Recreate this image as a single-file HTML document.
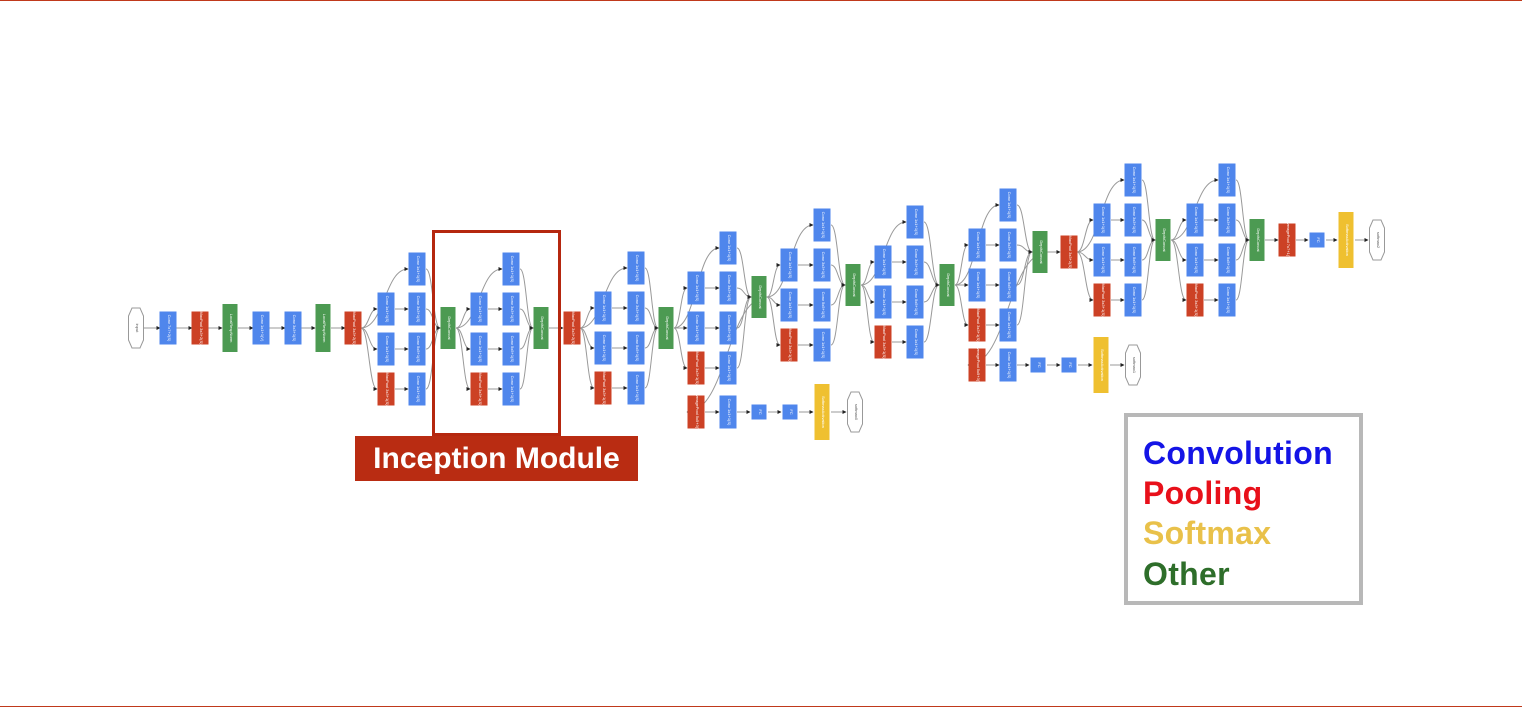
<!DOCTYPE html>
<html><head><meta charset="utf-8"><style>
html,body{margin:0;padding:0;background:#fff;}
#wrap{position:relative;width:1522px;height:707px;overflow:hidden;font-family:"Liberation Sans",Arial,sans-serif;}
.rule{position:absolute;left:0;width:1522px;height:1px;background:#c0391b;}
#label{position:absolute;left:355px;top:436px;width:283px;height:45px;background:#b92c12;color:#fff;font-weight:bold;font-size:30px;line-height:45px;text-align:center;padding-left:-10px;}
#modbox{position:absolute;left:432px;top:230px;width:123px;height:200px;border:3px solid #b5270f;}
#legend{position:absolute;left:1124px;top:413px;width:231px;height:184px;border:4px solid #b8b8b8;}
#legend div{position:absolute;left:15px;font-weight:bold;font-size:32px;letter-spacing:0.3px;}
</style></head><body>
<div id="wrap">
<div class="rule" style="top:0"></div>
<div class="rule" style="top:706px"></div>
<svg id="net" width="1522" height="707" style="position:absolute;left:0;top:0">
<defs><marker id="ar" markerWidth="4" markerHeight="4" refX="3.5" refY="2" orient="auto"><path d="M0,0 L4,2 L0,4z" fill="#222"/></marker></defs>
<g id="edges"></g><g id="nodes"></g></svg>
<div id="modbox"></div>
<div id="label">Inception Module</div>
<div id="legend">
<div style="top:18px;color:#1414e6">Convolution</div>
<div style="top:58px;color:#e8101a">Pooling</div>
<div style="top:98px;color:#e9c14a">Softmax</div>
<div style="top:139px;color:#2e6e2a">Other</div>
</div>
</div>
<script>
const stemX=[136,168,200,230,261,293,323,353];
const stemT=['in','conv','pool','lrn','conv','conv','lrn','pool'];
const stemL=['input','Conv 7x7+2(S)','MaxPool 3x3+2(S)','LocalRespNorm','Conv 1x1+1(V)','Conv 3x3+1(S)','LocalRespNorm','MaxPool 3x3+2(S)'];
const modA=[386,479,603,696,789,883,977,1102,1195];
const modB=[417,511,636,728,822,915,1008,1133,1227];
const modY=[309,309,308,288,265,262,245,220,220];
const catX=[448,541,666,759,853,947,1040,1163,1257];
const catY=[328,328,328,297,285,285,252,240,240];
const poolAfter={1:[572,328],6:[1069,252]};
const aux=[{from:3,y:412,x:[696,728,759,790,822,855]},{from:6,y:365,x:[977,1008,1038,1069,1101,1133]}];
const tailX=[1287,1317,1346,1377];
const tailT=['pool','fc','soft','out'];
const col={conv:'#4f86ec',pool:'#cc4125',lrn:'#4c9a52',cat:'#4c9a52',fc:'#4f86ec',soft:'#efc030'};
const dims={conv:[17,33],pool:[17,33],lrn:[15,48],cat:[15,42],fc:[15,15],soft:[15,56],in:[15,40],out:[15,40]};
const NS='http://www.w3.org/2000/svg';
const E=document.getElementById('edges'),N=document.getElementById('nodes');
function node(t,x,y,lab){
 const [w,h]=dims[t];const g=document.createElementNS(NS,'g');
 
 
 if(t==='in'||t==='out'){const p=document.createElementNS(NS,'polygon');
  p.setAttribute('points',[[x-4,y-h/2],[x+4,y-h/2],[x+w/2,y-h/2+8],[x+w/2,y+h/2-8],[x+4,y+h/2],[x-4,y+h/2],[x-w/2,y+h/2-8],[x-w/2,y-h/2+8]].map(a=>a.join(',')).join(' '));
  p.setAttribute('fill','#fff');p.setAttribute('stroke','#999');g.appendChild(p);}
 else{const r=document.createElementNS(NS,'rect');r.setAttribute('x',x-w/2);r.setAttribute('y',y-h/2);r.setAttribute('width',w);r.setAttribute('height',h);r.setAttribute('fill',col[t]);g.appendChild(r);}
 const tx=document.createElementNS(NS,'text');tx.setAttribute('x',x);tx.setAttribute('y',y);
 tx.setAttribute('transform','rotate(90 '+x+' '+y+')');tx.setAttribute('text-anchor','middle');tx.setAttribute('font-size','4');
 tx.setAttribute('fill',(t==='in'||t==='out')?'#555':'#fff');tx.setAttribute('font-family','Liberation Sans, sans-serif');tx.textContent=lab;g.appendChild(tx);
 N.appendChild(g);
}
function edge(x1,y1,x2,y2){const p=document.createElementNS(NS,'path');
 const mx=(x1+x2)/2;p.setAttribute('d',`M${x1},${y1} C${mx},${y1} ${mx},${y2} ${x2},${y2}`);
 p.setAttribute('fill','none');p.setAttribute('stroke','#999');p.setAttribute('stroke-width','1');p.setAttribute('marker-end','url(#ar)');
 
 
 E.appendChild(p);}
for(let i=0;i<stemX.length;i++){node(stemT[i],stemX[i],328,stemL[i]);if(i)edge(stemX[i-1]+8,328,stemX[i]-8,328);}
let px=353,py=328;
for(let m=0;m<modA.length;m++){
 const a=modA[m],b=modB[m],y=modY[m];
 const rowsB=[y-40,y,y+40,y+80];
 node('conv',b,rowsB[0],'Conv 1x1+1(S)');edge(px+8,py,b-9,rowsB[0]);
 ['Conv 1x1+1(S)','Conv 1x1+1(S)','MaxPool 3x3+1(S)'].forEach((l,k)=>{node(k==2?'pool':'conv',a,rowsB[k+1],l);edge(px+8,py,a-9,rowsB[k+1]);edge(a+9,rowsB[k+1],b-9,rowsB[k+1]);});
 ['Conv 3x3+1(S)','Conv 5x5+1(S)','Conv 1x1+1(S)'].forEach((l,k)=>node('conv',b,rowsB[k+1],l));
 rowsB.forEach(r=>edge(b+9,r,catX[m]-8,catY[m]));
 node('cat',catX[m],catY[m],'DepthConcat');
 px=catX[m];py=catY[m];
 if(poolAfter[m]){const [x,yy]=poolAfter[m];edge(px+8,py,x-9,yy);node('pool',x,yy,'MaxPool 3x3+2(S)');px=x;py=yy;}
}
aux.forEach((ax,k)=>{const t=['pool','conv','fc','fc','soft','out'];const L=['AveragePool 5x5+3(V)','Conv 1x1+1(S)','FC','FC','SoftmaxActivation','softmax'+k];
 edge(catX[ax.from]+8,catY[ax.from],ax.x[0]-9,ax.y);
 ax.x.forEach((x,i)=>{node(t[i],x,ax.y,L[i]);if(i)edge(ax.x[i-1]+9,ax.y,x-9,ax.y);});});
const TL=['AveragePool 7x7+1(V)','FC','SoftmaxActivation','softmax2'];
edge(1265,240,1278,240);
tailX.forEach((x,i)=>{node(tailT[i],x,240,TL[i]);if(i)edge(tailX[i-1]+9,240,x-9,240);});
</script>
</body></html>
